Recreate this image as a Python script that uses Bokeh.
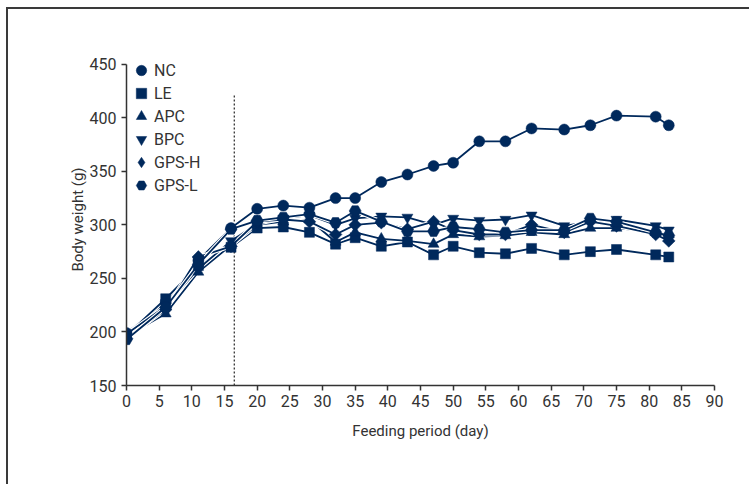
import math
from bokeh.plotting import figure
from bokeh.models import Range1d, FixedTicker, Legend, LegendItem
from bokeh.embed import file_html
from bokeh.resources import INLINE

# ---- data ----
days = [0, 6, 11, 16, 20, 24, 28, 32, 35, 39, 43, 47, 50, 54, 58, 62, 67, 71, 75, 81, 83]
nc    = [199, 228, 267, 297, 315, 318, 316, 325, 325, 340, 347, 355, 358, 378, 378, 390, 389, 393, 402, 401, 393]
le    = [197, 231, 262, 279, 297, 298, 293, 282, 288, 280, 284, 272, 280, 274, 273, 278, 272, 275, 277, 272, 270]
apc   = [196, 217, 256, 281, 300, 303, 305, 284, 293, 287, 285, 282, 291, 289, 290, 293, 291, 297, 297, 293, 291]
bpc   = [198, 224, 259, 285, 301, 306, 309, 300, 306, 308, 307, 300, 306, 304, 305, 309, 299, 303, 305, 299, 295]
gps_h = [194, 221, 270, 280, 303, 305, 303, 291, 300, 302, 296, 303, 295, 291, 291, 300, 293, 303, 299, 291, 285]
gps_l = [193, 223, 263, 296, 304, 307, 310, 302, 313, 303, 294, 294, 298, 296, 293, 295, 295, 306, 303, 293, 290]

series_names = ["NC", "LE", "APC", "BPC", "GPS-H", "GPS-L"]
series_values = [nc, le, apc, bpc, gps_h, gps_l]
series_markers = ["circle", "square", "triangle", "inverted_triangle", "square", "hex"]
legend_markers = ["circle", "square", "triangle", "inverted_triangle", "diamond", "hex"]
marker_angles = [0, 0, 0, 0, math.pi / 4, 0]
marker_sizes = [11, 10, 11, 11, 9, 12]

x_ticks = list(range(0, 95, 5))
y_ticks = [150, 200, 250, 300, 350, 400, 450]
switch_day = 16.5
switch_top = 422

NAVY = "#00295c"
AXIS = "#333333"
FRAME = "#3a3a3a"
FONT = "Roboto"

p = figure(width=749, height=484, output_backend="svg", toolbar_location=None,
           x_range=Range1d(0, 90), y_range=Range1d(150, 460),
           min_border_left=126, min_border_right=35, min_border_top=53, min_border_bottom=99)
p.outline_line_color = None
p.grid.visible = False
p.background_fill_color = None
p.border_fill_color = None
p.styles = {
    "background": (f"linear-gradient({FRAME},{FRAME}) 6px 7px / 2px 100% no-repeat, "
                   f"linear-gradient({FRAME},{FRAME}) 6px 7px / 100% 2px no-repeat, white")
}

for ax in (p.xaxis[0], p.yaxis[0]):
    ax.axis_line_color = AXIS
    ax.axis_line_width = 1.5
    ax.major_tick_line_color = AXIS
    ax.major_tick_line_width = 1.5
    ax.major_tick_out = 5
    ax.major_tick_in = 0
    ax.minor_tick_line_color = None
    ax.major_label_text_font = FONT
    ax.major_label_text_font_size = "16px"
    ax.major_label_text_color = AXIS
    ax.axis_label_text_font = FONT
    ax.axis_label_text_font_size = "15px"
    ax.axis_label_text_font_style = "normal"
    ax.axis_label_text_color = AXIS

p.xaxis.ticker = FixedTicker(ticks=x_ticks)
p.yaxis.ticker = FixedTicker(ticks=y_ticks)
p.yaxis.bounds = (150, 450)
p.xaxis.axis_label = "Feeding period (day)"
p.yaxis.axis_label = "Body weight (g)"
p.xaxis.major_label_standoff = 4
p.xaxis.axis_label_standoff = 12
p.yaxis.major_label_standoff = 5
p.yaxis.axis_label_standoff = 0

# dotted reference line
p.segment(x0=[switch_day], y0=[150], x1=[switch_day], y1=[switch_top],
          line_color=AXIS, line_width=1.3, line_dash="2 2")

# lines with white casing
for vals in series_values:
    p.line(days, vals, line_color="white", line_width=4)
    p.line(days, vals, line_color=NAVY, line_width=1.8)

items = []
for name, vals, mk, lmk, ang, sz in zip(series_names, series_values, series_markers,
                                        legend_markers, marker_angles, marker_sizes):
    key = None
    if lmk != mk:
        # legend key glyph, drawn hidden underneath the rotated-square markers
        key = p.scatter(days, vals, marker=lmk, size=sz,
                        fill_color=NAVY, line_color=NAVY, line_width=0.5)
    r = p.scatter(days, vals, marker=mk, size=sz, angle=ang,
                  fill_color=NAVY, line_color=NAVY, line_width=0.5)
    items.append(LegendItem(label=name, renderers=[key if key is not None else r]))

legend_kw = dict(orientation="vertical", glyph_width=26, glyph_height=28, spacing=18,
                 padding=0, margin=0, label_standoff=0, label_text_font=FONT,
                 label_text_font_size="16px", label_text_color=AXIS,
                 border_line_color=None, background_fill_alpha=0)
# two interleaved legends give the tight row pitch of the original
legend_a = Legend(items=items[0::2], location=(2, 209), **legend_kw)
legend_b = Legend(items=items[1::2], location=(2, 186), **legend_kw)
p.add_layout(legend_a)
p.add_layout(legend_b)

open("out.html", "w").write(file_html(p, INLINE))
